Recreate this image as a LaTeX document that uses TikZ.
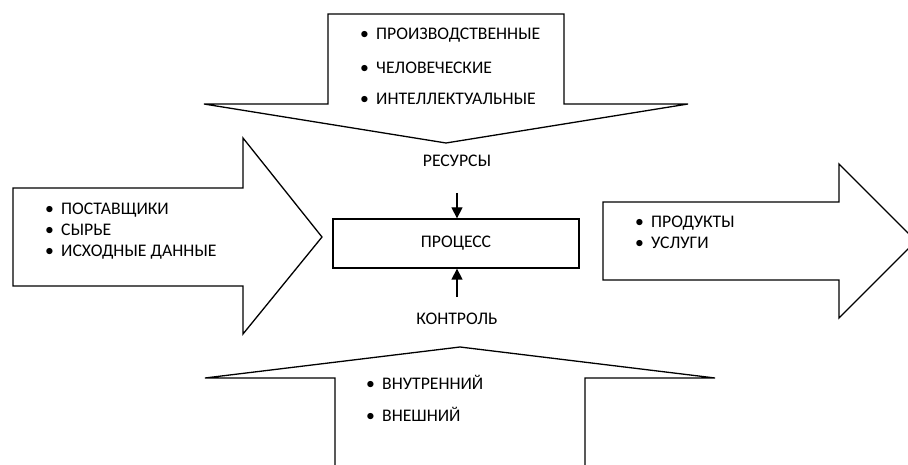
\documentclass[tikz,border=0pt]{standalone}
\usepackage{fontspec}
\setmainfont{Carlito}
\usetikzlibrary{arrows.meta}
\newcommand{\itm}[1]{\makebox[16pt][l]{•}#1}
\tikzset{
  shape outline/.style={draw=black, line width=1.3pt, line join=miter, fill=white},
  label text/.style={font=\fontsize{17.7}{20}\selectfont, inner sep=0pt},
  item/.style={label text, anchor=base west},
  feed/.style={draw=black, line width=1.3pt, -{Triangle[length=11pt,width=11pt]}}
}
\begin{document}
\begin{tikzpicture}[x=1pt,y=-1pt]
  \useasboundingbox (0,0) rectangle (908,465);
  \fill[white] (0,0) rectangle (908,465);

  % resources: block arrow pointing down
  \draw[shape outline] (328,14) -- (564,14) -- (564,104) -- (688,104)
        -- (446,143) -- (204,104) -- (328,104) -- cycle;
  \node[item] (r1) at (360,40)  {\itm{ПРОИЗВОДСТВЕННЫЕ}};
  \node[item] (r2) at (360,74)  {\itm{ЧЕЛОВЕЧЕСКИЕ}};
  \node[item] (r3) at (360,105) {\itm{ИНТЕЛЛЕКТУАЛЬНЫЕ}};

  % inputs: block arrow pointing right
  \draw[shape outline] (13,188) -- (243,188) -- (243,138) -- (322,237)
        -- (243,334) -- (243,286) -- (13,286) -- cycle;
  \node[item] (i1) at (45,215) {\itm{ПОСТАВЩИКИ}};
  \node[item] (i2) at (45,236) {\itm{СЫРЬЕ}};
  \node[item] (i3) at (45,257) {\itm{ИСХОДНЫЕ ДАННЫЕ}};

  % outputs: block arrow pointing right
  \draw[shape outline] (603,202) -- (839,202) -- (839,164) -- (916,241)
        -- (839,318) -- (839,280) -- (603,280) -- cycle;
  \node[item] (o1) at (635,228) {\itm{ПРОДУКТЫ}};
  \node[item] (o2) at (635,249) {\itm{УСЛУГИ}};

  % control: block arrow pointing up
  \draw[shape outline] (335,470) -- (335,378) -- (205,378) -- (460,347)
        -- (715,378) -- (585,378) -- (585,470);
  \node[item] (c1) at (366,389) {\itm{ВНУТРЕННИЙ}};
  \node[item] (c2) at (366,421) {\itm{ВНЕШНИЙ}};

  % process box and its labels
  \node[draw=black, line width=1.3pt, minimum width=246pt, minimum height=49pt,
        label text] (proc) at (456,243.5) {ПРОЦЕСС};
  \node[label text, anchor=base] (res) at (457,167) {РЕСУРСЫ};
  \node[label text, anchor=base] (ctl) at (457,324) {КОНТРОЛЬ};

  \coordinate (resfoot) at (457,193);
  \coordinate (ctlfoot) at (457,297);
  \draw[feed] (resfoot) -- (proc.north -| resfoot);
  \draw[feed] (ctlfoot) -- (proc.south -| ctlfoot);
\end{tikzpicture}
\end{document}
